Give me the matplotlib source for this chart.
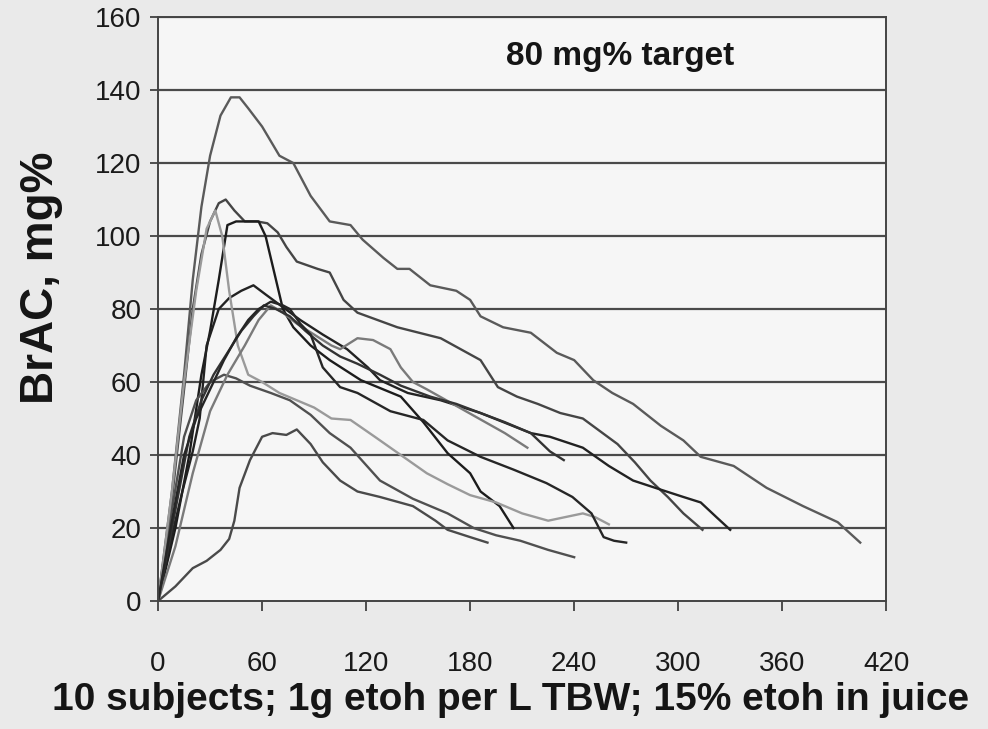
import matplotlib
matplotlib.use("Agg")
import matplotlib.pyplot as plt

# BrAC curves, minutes after dosing vs mg%
t1 = [0, 8, 15, 20, 25, 30, 36, 42, 47, 52, 60, 70, 78, 88, 99, 111, 118, 130, 138, 145, 157, 172, 180, 186, 199, 215, 230, 240, 251, 262, 274, 290, 303, 313, 332, 351, 372, 392, 405]
y1 = [0, 30, 62, 88, 108, 122, 133, 138, 138, 135, 130, 122, 120, 111, 104, 103, 99, 94, 91, 91, 86.5, 85, 82.5, 78, 75, 73.5, 68, 66, 60.5, 57, 54, 48, 44, 39.5, 37, 31, 26, 21.6, 16]

t2 = [0, 8, 15, 20, 25, 30, 35, 39, 44, 50, 57, 63, 69, 74, 80, 92, 99, 107, 115, 138, 163, 186, 196, 207, 219, 232, 245, 255, 265, 275, 284, 294, 303, 314]
y2 = [0, 28, 58, 80, 95, 104, 109, 110, 107, 104, 104, 103.5, 101, 97, 93, 91, 90, 82.5, 79, 75, 72, 66, 58.6, 56, 54, 51.5, 50, 46.5, 43, 38, 33, 28.5, 24, 19.5]

t3 = [0, 10, 18, 25, 30, 35, 40, 45, 52, 58, 62, 66, 72, 78, 88, 99, 117, 140, 153, 167, 180, 186, 197, 205]
y3 = [0, 20, 40, 62, 74, 88, 103, 104, 104, 104, 100, 92, 80, 75, 70, 66, 60.5, 56, 49, 40.5, 35, 30, 26, 20]

t4 = [0, 8, 14, 20, 24, 28, 35, 41, 48, 55, 62, 72, 82, 95, 109, 121, 128, 144, 163, 186, 215, 226, 245, 260, 274, 290, 303, 313, 322, 330]
y4 = [0, 18, 30, 41, 50, 70, 80, 83, 85, 86.5, 84, 80.5, 77, 73, 69, 64, 60.5, 57, 55, 51.5, 46, 45, 42, 37, 33, 30.5, 28.5, 27, 23, 19.5]

t5 = [0, 10, 20, 28, 36, 41, 44, 47, 53, 60, 66, 74, 80, 88, 95, 105, 115, 128, 147, 160, 167, 180, 190]
y5 = [0, 4, 9, 11, 14, 17, 22, 31, 38.6, 45, 46, 45.5, 47, 43, 38, 33, 30, 28.5, 26, 22, 19.5, 17.5, 16]

t6 = [0, 8, 15, 22, 30, 38, 45, 53, 65, 76, 88, 99, 111, 128, 147, 167, 182, 195, 209, 225, 240]
y6 = [0, 25, 45, 55, 60, 62, 61, 59, 57, 55, 51, 46, 42, 33, 28, 24, 20, 18, 16.5, 14, 12]

t7 = [0, 8, 15, 22, 28, 33, 37, 41, 46, 52, 60, 70, 80, 90, 100, 111, 125, 140, 155, 167, 180, 195, 210, 225, 235, 245, 252, 260]
y7 = [0, 30, 60, 85, 102, 107, 100, 85, 70, 62, 60, 57, 55, 53, 50, 49.6, 45, 40, 35, 32, 29, 27, 24, 22, 23, 24, 23, 21]

t8 = [0, 10, 20, 30, 40, 50, 58, 65, 72, 80, 90, 100, 105, 115, 124, 134, 140, 147, 155, 170, 185, 200, 213]
y8 = [0, 15, 35, 52, 62, 70, 77, 81, 79, 76, 73, 70, 69, 72, 71.5, 69, 64, 60, 58, 54, 50, 46, 42]

t9 = [0, 10, 18, 25, 32, 40, 48, 55, 61, 68, 76, 85, 95, 105, 115, 128, 140, 157, 172, 186, 200, 215, 226, 234]
y9 = [0, 25, 45, 55, 62, 68, 74, 78, 81, 80, 78, 74, 70, 67, 65, 62, 59, 56, 54, 51.5, 49, 46, 41, 38.6]

t10 = [0, 8, 15, 22, 30, 38, 45, 52, 58, 65, 72, 76, 82, 88, 95, 105, 115, 134, 153, 167, 186, 205, 224, 239, 250, 257, 263, 270]
y10 = [0, 22, 40, 50, 58, 66, 72, 77, 80, 82, 81, 80, 76, 73, 64, 58.6, 57, 52, 49.6, 44, 39.5, 36, 32.3, 28.5, 24, 17.5, 16.5, 16]

x_ticks = [0, 60, 120, 180, 240, 300, 360, 420]
y_ticks = [0, 20, 40, 60, 80, 100, 120, 140, 160]

curves = [(t1, y1, "#5a5a5a"), (t2, y2, "#454545"), (t3, y3, "#1c1c1c"),
          (t4, y4, "#222222"), (t5, y5, "#4a4a4a"), (t6, y6, "#505050"),
          (t7, y7, "#9a9a9a"), (t8, y8, "#7a7a7a"), (t9, y9, "#333333"),
          (t10, y10, "#262626")]

plt.rcParams['font.family'] = ['Liberation Sans', 'DejaVu Sans']

fig = plt.figure(figsize=(9.88, 7.29), dpi=100, facecolor="#eaeaea")
ax = fig.add_axes([0.16, 0.1756, 0.737, 0.801])
ax.set_facecolor("#f6f6f6")

for yv in y_ticks[1:]:
    ax.axhline(yv, color="#4a4a4a", lw=1.6, zorder=1)

for t, y, c in curves:
    ax.plot(t, y, color=c, lw=1.7, zorder=2)

ax.set_xlim(0, 420)
ax.set_ylim(0, 160)
ax.set_xticks(x_ticks)
ax.set_yticks(y_ticks)
ax.set_xticklabels([str(v) for v in x_ticks], fontsize=20, color="#1a1a1a")
ax.set_yticklabels([str(v) for v in y_ticks], fontsize=20, color="#1a1a1a")
ax.tick_params(axis="x", direction="out", length=7, width=1.2, color="#333333", pad=29)
ax.tick_params(axis="y", direction="out", length=6, width=1.2, color="#333333", pad=6)
for s in ax.spines.values():
    s.set_color("#444444")
    s.set_linewidth(1.4)

ax.text(0.635, 0.932, "80 mg% target", transform=ax.transAxes, ha="center", va="center",
        fontsize=24, fontweight="bold", color="#151515")
fig.text(0.042, 1 - 278 / 729, "BrAC, mg%", rotation=90, ha="center", va="center",
         fontsize=33, fontweight="bold", color="#151515")
fig.text(0.517, 0.04, "10 subjects; 1g etoh per L TBW; 15% etoh in juice", ha="center",
         va="center", fontsize=28, fontweight="bold", color="#151515")

fig.savefig("out.png", dpi=100, facecolor=fig.get_facecolor())
